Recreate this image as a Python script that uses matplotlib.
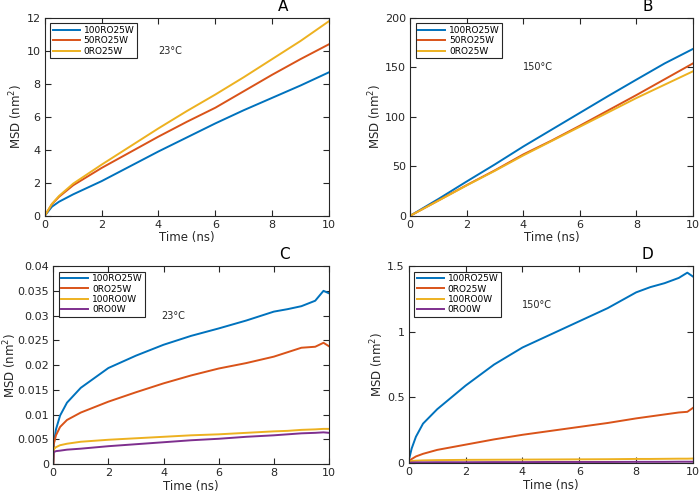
import numpy as np
from matplotlib import pyplot as plt
from matplotlib.ticker import FuncFormatter

#Data
tA = [0, 0.25, 0.5, 1, 2, 3, 4, 5, 6, 7, 8, 9, 10]
a_100RO25W = [0, 0.55, 0.85, 1.3, 2.1, 3.0, 3.9, 4.75, 5.6, 6.4, 7.15, 7.9, 8.7]
a_50RO25W = [0, 0.7, 1.15, 1.85, 2.9, 3.85, 4.8, 5.7, 6.55, 7.55, 8.55, 9.5, 10.4]
a_0RO25W = [0, 0.72, 1.2, 1.95, 3.1, 4.2, 5.3, 6.35, 7.35, 8.4, 9.5, 10.6, 11.8]

tB = [0, 1, 2, 3, 4, 5, 6, 7, 8, 9, 10]
b_100RO25W = [0, 17, 34.7, 52, 70, 87, 104, 121, 137.6, 154, 168.6]
b_50RO25W = [0, 15.5, 31, 46, 62, 76, 91, 106.5, 122, 138, 154]
b_0RO25W = [0, 15.3, 30.7, 45.5, 61, 75.5, 90, 104.5, 119, 132.5, 146]

tC = [0, 0.02, 0.1, 0.25, 0.5, 1, 2, 3, 4, 5, 6, 7, 8, 8.5, 9, 9.5, 9.8, 10]
c_100RO25W = [0.0, 0.004, 0.007, 0.0098, 0.0124, 0.0154, 0.0194, 0.0219, 0.0241, 0.0259,
              0.0274, 0.029, 0.0308, 0.0313, 0.0319, 0.033, 0.035, 0.0345]
c_0RO25W = [0.0, 0.004, 0.0058, 0.0075, 0.0089, 0.0104, 0.0126, 0.0145, 0.0163, 0.0179,
            0.0193, 0.0204, 0.0217, 0.0226, 0.0235, 0.0237, 0.0245, 0.0238]
c_100RO0W = [0.0, 0.003, 0.0034, 0.0038, 0.0041, 0.0045, 0.0049, 0.0052, 0.0055, 0.0058,
             0.006, 0.0063, 0.0066, 0.0067, 0.0069, 0.007, 0.0071, 0.0071]
c_0RO0W = [0.0, 0.0024, 0.0026, 0.0027, 0.0029, 0.0031, 0.0036, 0.004, 0.0044, 0.0048,
           0.0051, 0.0055, 0.0058, 0.006, 0.0062, 0.0063, 0.0064, 0.0063]

tD = [0, 0.1, 0.25, 0.5, 1, 2, 3, 4, 5, 6, 7, 8, 8.5, 9, 9.5, 9.8, 10]
d_100RO25W = [0.02, 0.11, 0.2, 0.3, 0.41, 0.59, 0.75, 0.88, 0.98, 1.08, 1.18, 1.3, 1.34,
              1.37, 1.41, 1.45, 1.42]
d_0RO25W = [0.01, 0.03, 0.05, 0.07, 0.1, 0.14, 0.18, 0.215, 0.245, 0.275, 0.305, 0.34,
            0.355, 0.37, 0.385, 0.39, 0.42]
d_100RO0W = [0.01, 0.015, 0.018, 0.02, 0.022, 0.024, 0.025, 0.026, 0.027, 0.028, 0.029,
             0.031, 0.031, 0.032, 0.033, 0.033, 0.034]
d_0RO0W = [0.002, 0.004, 0.005, 0.005, 0.006, 0.006, 0.007, 0.007, 0.008, 0.008, 0.008,
           0.009, 0.009, 0.009, 0.01, 0.01, 0.01]

blue = '#0072BD'
red = '#D95319'
yellow = '#EDB120'
purple = '#7E2F8E'
dark = '#262626'

plt.rcParams['font.family'] = 'DejaVu Sans'
fig = plt.figure(figsize=(7, 4.96), dpi=100)

def setup(ax, ylim, yticks, letter, temp, tpos):
    ax.set_xlim(0, 10)
    ax.set_ylim(*ylim)
    ax.set_xticks([0, 2, 4, 6, 8, 10])
    ax.set_yticks(yticks)
    ax.yaxis.set_major_formatter(FuncFormatter(lambda v, p: '%g' % v))
    ax.tick_params(direction='in', top=True, right=True, labelsize=8, colors=dark,
                   length=4, width=0.8, pad=3)
    for s in ax.spines.values():
        s.set_color(dark)
        s.set_linewidth(0.8)
    ax.set_xlabel('Time (ns)', fontsize=8.5, color=dark, labelpad=1)
    ax.set_ylabel('MSD (nm$^2$)', fontsize=8.5, color=dark, labelpad=1)
    ax.text(0.84, 1.02, letter, transform=ax.transAxes, fontsize=11, ha='center', va='bottom')
    ax.text(tpos[0], tpos[1], temp, transform=ax.transAxes, fontsize=7, ha='center',
            va='center', color=dark)
    leg = ax.legend(loc='upper left', fontsize=6.5, fancybox=False, framealpha=1,
                    edgecolor=dark, handlelength=3.0, borderpad=0.3, labelspacing=0.15,
                    borderaxespad=0.6, handletextpad=0.4)
    leg.get_frame().set_linewidth(0.8)

#Panel A
ax = fig.add_axes([0.064, 0.565, 0.406, 0.399])
ax.plot(tA, a_100RO25W, color=blue, lw=1.4, label='100RO25W')
ax.plot(tA, a_50RO25W, color=red, lw=1.4, label='50RO25W')
ax.plot(tA, a_0RO25W, color=yellow, lw=1.4, label='0RO25W')
setup(ax, (0, 12), [0, 2, 4, 6, 8, 10, 12], 'A', '23°C', (0.44, 0.83))

#Panel B
ax = fig.add_axes([0.586, 0.565, 0.404, 0.399])
ax.plot(tB, b_100RO25W, color=blue, lw=1.4, label='100RO25W')
ax.plot(tB, b_50RO25W, color=red, lw=1.4, label='50RO25W')
ax.plot(tB, b_0RO25W, color=yellow, lw=1.4, label='0RO25W')
setup(ax, (0, 200), [0, 50, 100, 150, 200], 'B', '150°C', (0.45, 0.75))

#Panel C
ax = fig.add_axes([0.076, 0.0645, 0.394, 0.399])
ax.plot(tC, c_100RO25W, color=blue, lw=1.4, label='100RO25W')
ax.plot(tC, c_0RO25W, color=red, lw=1.4, label='0RO25W')
ax.plot(tC, c_100RO0W, color=yellow, lw=1.4, label='100RO0W')
ax.plot(tC, c_0RO0W, color=purple, lw=1.4, label='0RO0W')
setup(ax, (0, 0.04), np.arange(0, 0.0401, 0.005), 'C', '23°C', (0.435, 0.75))
ax.yaxis.set_label_coords(-0.125, 0.5)

#Panel D
ax = fig.add_axes([0.584, 0.0665, 0.406, 0.397])
ax.plot(tD, d_100RO25W, color=blue, lw=1.4, label='100RO25W')
ax.plot(tD, d_0RO25W, color=red, lw=1.4, label='0RO25W')
ax.plot(tD, d_100RO0W, color=yellow, lw=1.4, label='100RO0W')
ax.plot(tD, d_0RO0W, color=purple, lw=1.4, label='0RO0W')
setup(ax, (0, 1.5), [0, 0.5, 1, 1.5], 'D', '150°C', (0.45, 0.80))

fig.savefig('out.png', dpi=100)
